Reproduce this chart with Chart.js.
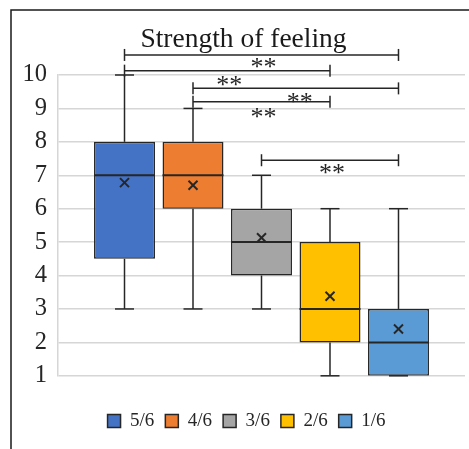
<!DOCTYPE html>
<html><head><meta charset="utf-8">
<script src="https://cdn.jsdelivr.net/npm/chart.js@4/dist/chart.umd.min.js"></script>
<style>html,body{margin:0;padding:0;background:#fff;}#wrap{width:469px;height:449px;}</style>
</head><body><div id="wrap"><canvas id="c" width="469" height="449"></canvas></div>
<script>
// ---- data ----
const groups  = ['5/6', '4/6', '3/6', '2/6', '1/6'];
const mins    = [3, 3, 3, 1, 1];
const q1s     = [4.5, 6, 4, 2, 1];
const medians = [7, 7, 5, 3, 2];
const q3s     = [8, 8, 6, 5, 3];
const maxs    = [10, 9, 7, 6, 6];
const means   = [6.78, 6.70, 5.13, 3.38, 2.40];
const colors  = ['#4472C4', '#ED7D31', '#A5A5A5', '#FFC000', '#5B9BD5'];
const yMin = 1, yMax = 10, yStep = 1;
// significance brackets (group index from/to, level in data units)
const sigFrom  = [0, 0, 1, 1, 2];
const sigTo    = [4, 3, 4, 3, 4];
const sigLevel = [10.60, 10.13, 9.60, 9.20, 7.45];
// significance labels (position as fractional group index, level in data units)
const starText  = ['**', '**', '**', '**', '**'];
const starPos   = [2.03, 1.53, 2.56, 2.03, 3.03];
const starLevel = [10.35, 9.83, 9.32, 8.87, 7.17];

const SERIF = '"Liberation Serif", "Times New Roman", serif';
const INK = '#262626';

const extras = {
  id: 'boxExtras',
  afterLayout(chart) {
    // nudge the legend and title blocks slightly right, as in the original
    const lg = chart.legend;
    if (lg) { lg.left += 8; lg.right += 8; }
    const tb = chart.titleBlock;
    if (tb) { tb.left += 5; tb.right += 5; }
  },
  beforeDraw(chart) {
    const ctx = chart.ctx;
    ctx.save();
    ctx.strokeStyle = '#1a1a1a'; ctx.lineWidth = 1.5;
    ctx.beginPath(); ctx.moveTo(11, 449); ctx.lineTo(11, 10); ctx.lineTo(469, 10); ctx.stroke();
    ctx.restore();
  },
  afterDatasetsDraw(chart) {
    const ctx = chart.ctx, y = chart.scales.y;
    const line = (x1, y1, x2, y2) => { ctx.beginPath(); ctx.moveTo(x1, y1); ctx.lineTo(x2, y2); ctx.stroke(); };
    const centers = groups.map((g, i) => chart.getDatasetMeta(i).data[0].x);
    ctx.save();
    ctx.strokeStyle = INK; ctx.lineCap = 'butt';
    groups.forEach((g, i) => {
      const bar = chart.getDatasetMeta(i).data[0];
      const x = bar.x, hw = bar.width / 2, cap = 9.5;
      const pMin = y.getPixelForValue(mins[i]), pMax = y.getPixelForValue(maxs[i]);
      const pQ1 = y.getPixelForValue(q1s[i]), pQ3 = y.getPixelForValue(q3s[i]);
      const pMed = y.getPixelForValue(medians[i]), pMean = y.getPixelForValue(means[i]);
      ctx.lineWidth = 1.5;
      line(x, pQ3, x, pMax); line(x - cap, pMax, x + cap, pMax);
      line(x, pQ1, x, pMin); line(x - cap, pMin, x + cap, pMin);
      ctx.lineWidth = 2;
      line(x - hw, pMed, x + hw, pMed);
      const r = 4.5;
      line(x - r, pMean - r, x + r, pMean + r); line(x - r, pMean + r, x + r, pMean - r);
    });
    ctx.lineWidth = 1.5;
    sigFrom.forEach((f, k) => {
      const x1 = centers[f], x2 = centers[sigTo[k]], py = y.getPixelForValue(sigLevel[k]);
      line(x1, py, x2, py); line(x1, py - 6, x1, py + 6); line(x2, py - 6, x2, py + 6);
    });
    ctx.fillStyle = INK; ctx.font = '26px ' + SERIF; ctx.textAlign = 'center'; ctx.textBaseline = 'middle';
    starText.forEach((t, k) => {
      const p = starPos[k], a = Math.floor(p), b = Math.min(a + 1, groups.length - 1);
      const x = centers[a] + (centers[b] - centers[a]) * (p - a);
      ctx.fillText(t, x, y.getPixelForValue(starLevel[k]) + 5);
    });
    ctx.restore();
  }
};

new Chart(document.getElementById('c'), {
  type: 'bar',
  data: {
    labels: [''],
    datasets: groups.map((g, i) => ({
      label: g,
      data: [[q1s[i], q3s[i]]],
      backgroundColor: colors[i],
      borderColor: INK,
      borderWidth: 1.5,
      borderSkipped: false,
      categoryPercentage: 0.8415,
      barPercentage: 0.89
    }))
  },
  options: {
    responsive: false,
    animation: false,
    devicePixelRatio: 1,
    layout: { padding: { left: 12, right: 4, top: 10, bottom: 8.6 } },
    plugins: {
      title: {
        display: true, text: 'Strength of feeling', color: '#1a1a1a',
        font: { family: SERIF, size: 27.5, weight: 'normal' },
        padding: { top: 13, bottom: 19 }
      },
      legend: {
        position: 'bottom',
        labels: {
          boxWidth: 13, boxHeight: 13, padding: 11, color: INK,
          font: { family: SERIF, size: 19 }
        }
      },
      tooltip: { enabled: false }
    },
    scales: {
      x: {
        ticks: { display: false },
        grid: { display: false },
        border: { display: false },
        afterFit(s) { s.height = 24.6; }
      },
      y: {
        min: yMin, max: yMax,
        ticks: { stepSize: yStep, color: INK, padding: 11, font: { family: SERIF, size: 24.5 } },
        grid: { color: '#d6d6d6', lineWidth: 1.5, drawTicks: false },
        border: { display: true, color: '#d6d6d6', width: 1.5 },
        afterFit(s) { s.width = 46; }
      }
    }
  },
  plugins: [extras]
});
</script></body></html>
